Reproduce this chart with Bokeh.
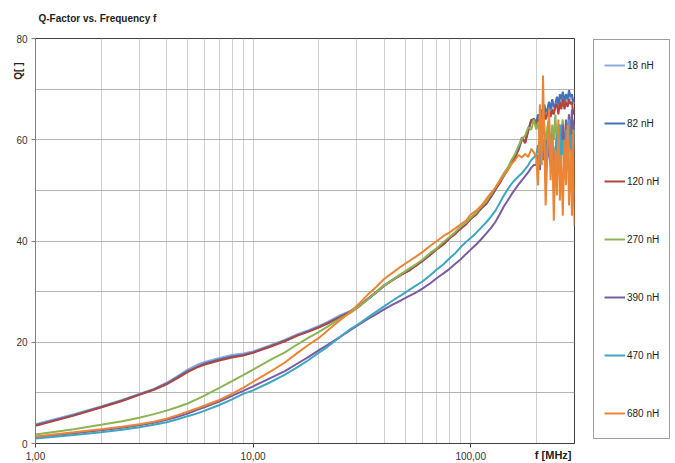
from bokeh.plotting import figure
from bokeh.layouts import row
from bokeh.models import FixedTicker, Legend, LegendItem, Title
from bokeh.embed import file_html
from bokeh.resources import INLINE

# ---------------- data ----------------
FREQ = [1, 1.5, 2, 2.5, 3, 3.5, 4, 4.5, 5, 5.5,
        6, 7, 8, 9, 10, 12, 14, 16, 18, 20,
        22, 25, 28, 31, 34, 37, 40, 44, 48, 52,
        56, 60, 65, 70, 75, 80, 85, 90, 95, 100,
        106, 112, 118, 124, 130, 136, 142, 148, 154, 160,
        166, 172, 178, 184, 190, 195,
        200, 204, 208, 212, 215, 218, 221, 225, 229, 233,
        237, 241, 245, 249, 253, 257, 261, 265, 270, 274,
        279, 283, 288, 292, 296, 300]

Q_18 = [3.8, 5.8, 7.3, 8.6, 9.8, 10.8, 12.0, 13.3, 14.6, 15.5,
        16.1, 16.9, 17.5, 17.8, 18.2, 19.4, 20.5, 21.6, 22.4, 23.2,
        24.0, 25.3, 26.2, 27.4, 28.8, 30.0, 31.3, 32.4, 33.5, 34.3,
        35.2, 36.2, 37.4, 38.5, 39.4, 40.6, 41.5, 42.6, 43.4, 44.5,
        45.3, 46.6, 47.5, 48.8, 50.2, 51.5, 52.9, 54.1, 55.4, 56.6,
        58.2, 60.2, 59.6, 61.9, 63.9, 63.9,
        63, 64.5, 63.5, 65.5, 64, 66.5, 65, 65.5, 67, 65.5,
        67.5, 66, 66.5, 68, 66.5, 68.5, 67.5, 69, 67, 68.5,
        67.5, 69, 68, 68.5, 67, 67.5]

Q_82 = [3.6, 5.6, 7.2, 8.5, 9.7, 10.7, 11.8, 13.1, 14.3, 15.1,
        15.8, 16.6, 17.2, 17.5, 18.0, 19.2, 20.3, 21.4, 22.2, 23.0,
        23.8, 25.0, 26.1, 27.3, 28.6, 29.9, 31.1, 32.4, 33.4, 34.1,
        35.2, 36.1, 37.2, 38.5, 39.5, 40.5, 41.6, 42.4, 43.4, 44.3,
        45.4, 46.4, 47.5, 48.7, 50.1, 51.6, 52.8, 54.2, 55.3, 56.7,
        58.0, 60.0, 59.8, 62.0, 63.8, 64.2,
        63.5, 65, 64, 66, 64.5, 67, 65.5, 66, 67.5, 66,
        68, 66.5, 67, 68.5, 67, 69, 68, 69.5, 67.5, 69,
        68, 69.8, 68.5, 69, 67.5, 68]

Q_120 = [3.5, 5.5, 7.1, 8.4, 9.6, 10.6, 11.7, 12.9, 14.1, 15.0,
         15.6, 16.4, 17.0, 17.4, 17.9, 19.1, 20.2, 21.3, 22.1, 22.9,
         23.7, 24.9, 25.9, 27.2, 28.7, 30.0, 31.2, 32.3, 33.3, 34.2,
         35.1, 36.0, 37.3, 38.4, 39.3, 40.6, 41.4, 42.5, 43.2, 44.4,
         45.2, 46.5, 47.3, 48.8, 50.3, 51.4, 53.0, 54.0, 55.5, 56.4,
         58.3, 60.5, 59.3, 61.8, 64.0, 63.6,
         63, 64, 63.5, 65, 63, 65.5, 64, 65, 66, 64.5,
         66, 65, 66.5, 67, 65, 67.5, 66, 68, 66, 67.5,
         66.5, 68, 67, 67.5, 65, 66]

Q_270 = [1.8, 2.8, 3.7, 4.4, 5.1, 5.8, 6.5, 7.2, 7.9, 8.7,
         9.5, 11.0, 12.3, 13.5, 14.6, 16.5, 18.0, 19.6, 20.9, 22.0,
         23.1, 24.6, 25.8, 27.2, 28.6, 30.0, 31.2, 32.4, 33.5, 34.5,
         35.4, 36.3, 37.6, 38.6, 39.8, 40.8, 41.8, 42.8, 43.6, 44.6,
         45.6, 46.8, 47.8, 49.2, 50.6, 52.0, 53.4, 54.5, 56.0, 57.2,
         58.8, 60.2, 60.8, 62.5, 62.0, 64.0,
         62, 63.5, 60, 64, 61, 63, 58, 62.5, 64, 57,
         63, 60, 65, 59, 63, 55, 62, 64, 58, 63.5,
         61, 65, 60, 64, 57, 63]

Q_390 = [1.3, 2.0, 2.6, 3.1, 3.6, 4.1, 4.7, 5.3, 5.9, 6.6,
         7.2, 8.3, 9.4, 10.4, 11.3, 12.9, 14.3, 15.8, 17.1, 18.4,
         19.5, 21.0, 22.4, 23.6, 24.7, 25.6, 26.5, 27.5, 28.3, 29.1,
         29.8, 30.6, 31.6, 32.7, 33.6, 34.5, 35.5, 36.4, 37.4, 38.3,
         39.3, 40.4, 41.5, 42.6, 43.8, 45.3, 46.8, 48.0, 49.2, 50.2,
         51.2, 52.0, 52.8, 53.6, 54.5, 55.0,
         55, 57, 54, 59, 56, 58, 53, 60, 57, 55,
         61, 52, 58, 60, 54, 62, 58, 63, 56, 64,
         59, 65, 60, 66, 58, 64]

Q_470 = [1.0, 1.7, 2.2, 2.7, 3.2, 3.7, 4.2, 4.8, 5.4, 5.9,
         6.5, 7.6, 8.7, 9.8, 10.5, 12.1, 13.6, 15.1, 16.5, 17.9,
         19.1, 21.0, 22.6, 23.8, 25.0, 26.1, 27.1, 28.3, 29.3, 30.3,
         31.2, 32.0, 33.2, 34.4, 35.4, 36.6, 37.6, 38.8, 39.8, 40.6,
         41.6, 42.7, 43.7, 44.8, 46.0, 47.5, 49.0, 50.2, 51.3, 52.1,
         52.8, 53.4, 54.2, 55.0, 56.0, 56.5,
         57, 59, 55, 61, 58, 60, 52, 59, 62, 56,
         60, 50, 58, 61, 55, 63, 57, 60, 53, 62,
         58, 64, 56, 61, 59, 62]

Q_680 = [1.4, 2.2, 2.8, 3.3, 3.8, 4.3, 4.9, 5.6, 6.3, 6.9,
         7.5, 8.6, 9.8, 11.0, 12.2, 14.2, 16.0, 17.9, 19.5, 20.8,
         22.3, 24.3, 26.0, 27.8, 29.6, 31.0, 32.5, 33.8, 35.0, 36.0,
         36.9, 37.8, 39.0, 40.0, 41.0, 41.7, 42.5, 43.3, 44.0, 45.2,
         46.0, 47.0, 48.3, 49.5, 50.5, 51.8, 53.0, 54.0, 55.2, 56.0,
         57.0, 56.5, 57.2, 56.6, 58.2, 57.5,
         56.5, 51, 67, 55, 72.7, 60, 47, 57, 66, 52,
         61, 44, 58, 49, 64, 48, 57, 45, 60, 51,
         63, 47, 58, 45, 62, 43]

SERIES_LABELS = ["18 nH", "82 nH", "120 nH", "270 nH", "390 nH", "470 nH", "680 nH"]
SERIES_VALUES = [Q_18, Q_82, Q_120, Q_270, Q_390, Q_470, Q_680]
SERIES_COLORS = ["#8eaadb", "#4672b4", "#b04541", "#8cb454", "#7a5ca2", "#3ea5c2", "#ec8436"]

X_TICKS = [1, 10, 100]
X_MINOR = [2, 3, 4, 5, 6, 7, 8, 9, 20, 30, 40, 50, 60, 70, 80, 90, 200]
X_TICK_LABELS = {1: "1,00", 10: "10,00", 100: "100,00"}
Y_TICKS = [0, 20, 40, 60, 80]
Y_MINOR = [10, 30, 50, 70]

FONT = "Liberation Sans"

# ---------------- main chart ----------------
p = figure(width=575, height=463, x_axis_type="log", x_range=(1, 300), y_range=(0, 80),
           title=None, output_backend="svg", toolbar_location=None,
           min_border_left=35, min_border_right=1, min_border_top=38, min_border_bottom=20)
p.background_fill_color = "white"
p.border_fill_color = "white"
p.outline_line_color = "#404040"
p.outline_line_width = 1

p.xaxis.ticker = FixedTicker(ticks=X_TICKS, minor_ticks=X_MINOR)
p.yaxis.ticker = FixedTicker(ticks=Y_TICKS, minor_ticks=Y_MINOR)
p.xaxis.major_label_overrides = X_TICK_LABELS

for ax in (p.xaxis[0], p.yaxis[0]):
    ax.major_tick_in = 0
    ax.major_tick_out = 4
    ax.minor_tick_line_color = None
    ax.major_label_text_font = FONT
    ax.major_label_text_font_size = "10px"
    ax.major_label_text_color = "#333333"
    ax.major_label_standoff = 4
p.xaxis.axis_line_color = "#404040"
p.xaxis.major_tick_line_color = "#404040"
p.yaxis.axis_line_color = "#808080"
p.yaxis.major_tick_line_color = "#808080"

p.xgrid.grid_line_color = "#cfcfcf"
p.xgrid.minor_grid_line_color = "#cfcfcf"
p.ygrid.grid_line_color = "#b4b4b4"
p.ygrid.minor_grid_line_color = "#b4b4b4"

for vals, col in zip(SERIES_VALUES, SERIES_COLORS):
    p.line(FREQ, vals, line_color=col, line_width=2)

p.add_layout(Title(text="Q-Factor vs. Frequency f", align="left", offset=3, standoff=25,
                   vertical_align="top",
                   text_font=FONT, text_font_size="10px", text_font_style="bold",
                   text_color="#222222"), "above")
p.add_layout(Title(text="Q[ ]", align="right", offset=24, standoff=-21,
                   text_font=FONT, text_font_size="10px", text_font_style="bold",
                   text_color="#222222"), "left")
p.add_layout(Title(text="f [MHz]", align="right", offset=3, standoff=-28,
                   vertical_align="top",
                   text_font=FONT, text_font_size="11px", text_font_style="bold",
                   text_color="#222222"), "below")

# ---------------- legend panel ----------------
lg = figure(width=100, height=463, x_range=(0, 1), y_range=(0, 1),
            title=None, output_backend="svg", toolbar_location=None,
            x_axis_location=None, y_axis_location=None,
            min_border_left=0, min_border_right=0, min_border_top=0, min_border_bottom=0)
lg.outline_line_color = None
lg.xgrid.visible = False
lg.ygrid.visible = False
lg.border_fill_color = "white"
lg.background_fill_color = "white"

items = []
for lab, col in zip(SERIES_LABELS, SERIES_COLORS):
    # swatch-only renderer, placed outside the visible range of this panel
    r = lg.line(x=[-3, -2], y=[-3, -2], line_color=col, line_width=2)
    items.append(LegendItem(label=lab, renderers=[r]))

legend = Legend(items=items, location=(18, 4), orientation="vertical",
                padding=10, margin=0, spacing=28,
                glyph_height=30, label_height=30, glyph_width=21, label_standoff=2,
                label_text_font=FONT, label_text_font_size="10px", label_text_color="#222222",
                border_line_color="#404040", border_line_width=1,
                background_fill_color="white", background_fill_alpha=1.0)
lg.add_layout(legend)

layout = row(p, lg, spacing=0)
open("out.html", "w").write(file_html(layout, INLINE))
